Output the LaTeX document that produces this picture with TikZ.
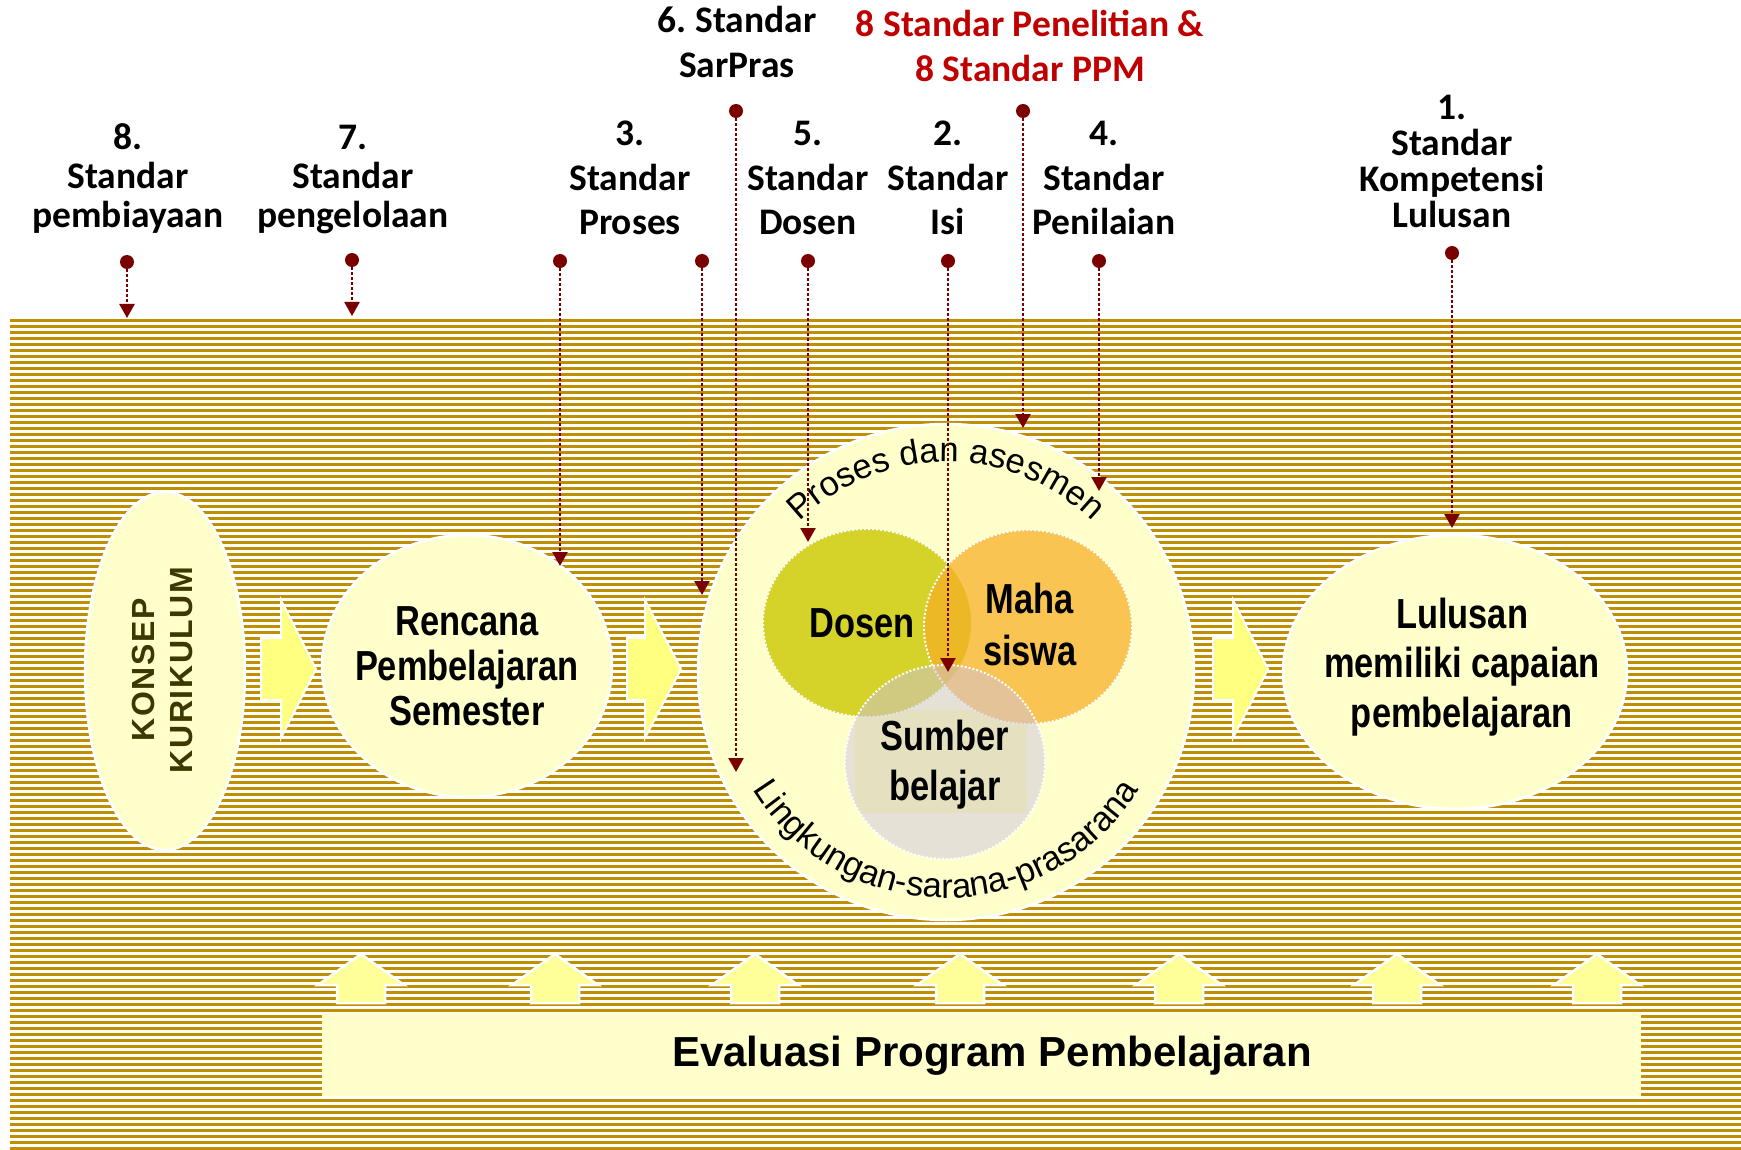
\documentclass[tikz,border=0pt]{standalone}
\usepackage{fontspec}
\setmainfont{Liberation Sans}
\newfontfamily\labfont{Carlito}
\newfontfamily\narrowfont{Liberation Sans}[FakeStretch=0.82]
\usetikzlibrary{arrows.meta,decorations.text}

\definecolor{stripe}{RGB}{191,143,0}
\definecolor{paleyel}{RGB}{255,255,204}
\definecolor{arrowyel}{RGB}{255,255,128}
\definecolor{upyel}{RGB}{255,255,153}
\definecolor{darkred}{RGB}{122,0,0}
\definecolor{stdred}{RGB}{192,0,0}
\definecolor{dosenc}{RGB}{213,211,41}
\definecolor{mahac}{RGB}{249,196,82}
\definecolor{overlapc}{RGB}{237,184,38}
\definecolor{sumberc}{RGB}{204,194,227}
\definecolor{bandc}{RGB}{252,255,160}
\definecolor{konsepc}{RGB}{61,55,0}

% centred stack of lines with a fixed baseline distance; baseline = first line
\newcommand\stk[1]{\vtop{\lineskiplimit=-1000pt\lineskip=0pt\halign{\hfil##\hfil\cr#1\crcr}}}

\begin{document}
\frenchspacing
\begin{tikzpicture}[x=1pt,y=-1pt,
  lab/.style={anchor=base, inner sep=0pt, font=\labfont\bfseries\fontsize{37.5}{#1}\selectfont},
  lab/.default=44.5,
  bub/.style={anchor=base, inner sep=0pt, font=\narrowfont\bfseries\fontsize{42}{#1}\selectfont},
  bub/.default=50,
  dot/.style={circle, fill=darkred, inner sep=0pt, minimum size=14pt},
  conn/.style={darkred, line width=2.5pt, dash pattern=on 2.5pt off 2.5pt,
    -{Triangle[width=15pt,length=14pt]}},
  bigshape/.style={fill=paleyel, draw=white, line width=2.5pt},
  rarrow/.style={fill=arrowyel, draw=white, line width=2pt},
  uarrow/.style={fill=upyel, draw=white, line width=2.5pt},
  vennline/.style={draw=white, line width=2pt, dash pattern=on 2pt off 2pt}
]
\useasboundingbox (0,0) rectangle (1741,1150);
\fill[white] (0,0) rectangle (1741,1150);

% striped field
\foreach \i in {0,...,138}
  \fill[stripe] (10,{319+6*\i}) rectangle (1741,{322.3+6*\i});

% main flow shapes
\path[bigshape] (165,671) ellipse[x radius=80, y radius=179];
\path[bigshape] (467,666) ellipse[x radius=145, y radius=131];
\path[bigshape] (946,672) circle[radius=248];
\path[bigshape] (1455,672) ellipse[x radius=172, y radius=137];

% arrows between the stages
\foreach \a/\b/\c in {261/281/316, 627/645/681, 1213/1233/1268}
  \path[rarrow] (\a,638) -- (\b,638) -- (\b,600) -- (\c,669) -- (\b,738)
     -- (\b,700) -- (\a,700) -- cycle;

% evaluation bar and upward arrows
\fill[paleyel] (322,1013) rectangle (1641,1096);
\foreach \x in {361,555,755,960,1179,1397,1597}
  \path[uarrow] (\x,954) -- ({\x+43},985) -- ({\x+24},985) -- ({\x+24},1003)
     -- ({\x-24},1003) -- ({\x-24},985) -- ({\x-43},985) -- cycle;
\node[anchor=base, inner sep=0pt, font=\bfseries\fontsize{42}{50}\selectfont]
  (evaltxt) at (992,1066) {Evaluasi Program Pembelajaran};

% venn diagram
\begin{scope}
  \clip (945,762) ellipse[x radius=100, y radius=97];
  \fill[bandc] (855,710) rectangle (1027,813);
\end{scope}
\fill[dosenc] (867,623) ellipse[x radius=104, y radius=94];
\path[vennline] (867,623) ellipse[x radius=104, y radius=94];
\fill[mahac] (1028,627) ellipse[x radius=104, y radius=97];
\begin{scope}
  \clip (867,623) ellipse[x radius=104, y radius=94];
  \fill[overlapc] (1028,627) ellipse[x radius=104, y radius=97];
\end{scope}
\path[vennline] (1028,627) ellipse[x radius=104, y radius=97];
\fill[sumberc, fill opacity=0.48] (945,762) ellipse[x radius=100, y radius=97];
\path[vennline] (945,762) ellipse[x radius=100, y radius=97];

% texts along the big circle
\coordinate (C) at (946,672);
\path[decorate, decoration={text along path, text align=center,
    text={|\fontsize{34.5}{34.5}\selectfont|Proses dan asesmen}}]
  (C) ++(-150:210) arc[start angle=-150, end angle=-30, radius=210];
\path[decorate, decoration={text along path, text align=center,
    text={|\fontsize{34.5}{34.5}\selectfont|Lingkungan-sarana-prasarana}}]
  (C) ++(-205:226) arc[start angle=-205, end angle=-335, radius=226];

% stage texts
\node[rotate=90, align=center, inner sep=0pt, text=konsepc,
  font=\bfseries\fontsize{32}{38}\selectfont\addfontfeature{LetterSpace=5}]
  (konsep) at (162,670) {KONSEP\\KURIKULUM};
\node[bub=45] (rps) at (467,635) {\stk{Rencana\cr Pembelajaran\cr Semester}};
\node[bub=49.5] (lulusan) at (1462,628) {\stk{Lulusan\cr memiliki capaian\cr pembelajaran}};
\node[bub] (dosen) at (862,637) {Dosen};
\node[bub=52] (maha) at (1030,613) {\stk{Maha\cr siswa}};
\node[bub=50] (sumber) at (945,750) {\stk{Sumber\cr belajar}};

% standard labels
\node[lab=39] (l8) at (128,150) {\stk{8.\cr Standar\cr pembiayaan}};
\node[lab=39] (l7) at (353,150) {\stk{7.\cr Standar\cr pengelolaan}};
\node[lab] (l3) at (630,146) {\stk{3.\cr Standar\cr Proses}};
\node[lab] (l5) at (808,146) {\stk{5.\cr Standar\cr Dosen}};
\node[lab] (l2) at (948,146) {\stk{2.\cr Standar\cr Isi}};
\node[lab] (l4) at (1104,146) {\stk{4.\cr Standar\cr Penilaian}};
\node[lab=45] (l6) at (737,33) {\stk{6. Standar\cr SarPras}};
\node[lab=45, text=stdred] (lppm) at (1030,37) {\stk{8 Standar Penelitian \&\cr 8 Standar PPM}};
\node[lab=35.7] (l1) at (1452,120) {\stk{1.\cr Standar\cr Kompetensi\cr Lulusan}};

% connectors from each standard
\node[dot] (d8) at (127,262) {};   \coordinate (t8) at (127,318);
\node[dot] (d7) at (352,260) {};   \coordinate (t7) at (352,316);
\node[dot] (d3) at (560,261) {};   \coordinate (t3) at (560,566);
\node[dot] (d3b) at (702,261) {};  \coordinate (t3b) at (702,595);
\node[dot] (d6) at (736,111) {};   \coordinate (t6) at (736,772);
\node[dot] (d5) at (808,261) {};   \coordinate (t5) at (808,542);
\node[dot] (d2) at (948,261) {};   \coordinate (t2) at (948,672);
\node[dot] (dp) at (1023,111) {};  \coordinate (tp) at (1023,428);
\node[dot] (d4) at (1099,261) {};  \coordinate (t4) at (1099,491);
\node[dot] (d1) at (1452,253) {};  \coordinate (t1) at (1452,528);
\foreach \s in {8,7,3,3b,6,5,2,p,4,1}
  \draw[conn] (d\s) -- (t\s);
\end{tikzpicture}
\end{document}
